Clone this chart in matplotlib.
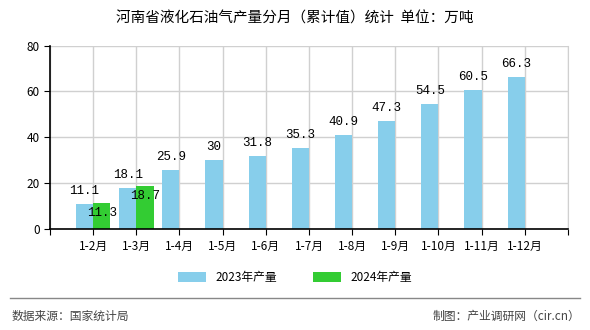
import matplotlib
matplotlib.use("Agg")
import matplotlib.pyplot as plt
import numpy as np

plt.rcParams['font.family'] = ['Noto Sans CJK SC', 'DejaVu Sans']

months = ['1-2月', '1-3月', '1-4月', '1-5月', '1-6月', '1-7月', '1-8月',
          '1-9月', '1-10月', '1-11月', '1-12月']
prod_2023 = [11.1, 18.1, 25.9, 30, 31.8, 35.3, 40.9, 47.3, 54.5, 60.5, 66.3]
prod_2024 = [11.3, 18.7]

fig = plt.figure(figsize=(5.9, 3.3), dpi=100)
ax = fig.add_axes([0.0847, 0.306, 0.878, 0.556])

x = np.arange(1, len(months) + 1)
w = 0.4
b1 = ax.bar(x - w / 2, prod_2023, width=w, color='#87CEEB', label='2023年产量', zorder=2)
x24 = x[:len(prod_2024)]
b2 = ax.bar(x24 + w / 2, prod_2024, width=w, color='#33CC33', label='2024年产量', zorder=2)

mono = ['Liberation Mono', 'DejaVu Sans Mono']
for xi, v in zip(x, prod_2023):
    ax.annotate('%g' % v, (xi - w / 2, v), xytext=(0, 5), textcoords='offset points',
                ha='center', va='bottom', fontsize=9, family=mono, zorder=3)
for xi, v in zip(x24, prod_2024):
    ax.annotate('%g' % v, (xi + w / 2, v), xytext=(0, -3), textcoords='offset points',
                ha='center', va='top', fontsize=9, family=mono, zorder=3)

ax.set_xlim(0, 12)
ax.set_ylim(0, 80)
ax.set_yticks([0, 20, 40, 60, 80])
ax.set_xticks(np.arange(0, 13))
ax.set_xticklabels([''] + months + [''])
ax.tick_params(axis='x', length=4, labelsize=8.5, pad=4)
ax.tick_params(axis='y', length=4, labelsize=8.5)
ax.grid(True, color='#d0d0d0', linewidth=1, zorder=0)
ax.spines['top'].set_visible(False)
ax.spines['right'].set_color('#d0d0d0')
ax.spines['left'].set_linewidth(1.2)
ax.spines['bottom'].set_linewidth(1.2)

fig.text(0.5, 0.945, '河南省液化石油气产量分月（累计值）统计  单位：万吨',
         ha='center', va='center', fontsize=10.5)

fig.legend(handles=[b1, b2], loc='center', bbox_to_anchor=(0.5, 0.16), ncol=2,
           frameon=False, fontsize=8.5, handlelength=2.4, handleheight=0.9,
           columnspacing=3)

fig.add_artist(plt.Line2D([0.017, 0.983], [0.097, 0.097], color='#888888', linewidth=1))
fig.text(0.02, 0.042, '数据来源：国家统计局', ha='left', va='center', fontsize=8.5, color='#444444')
fig.text(0.983, 0.042, '制图：产业调研网（cir.cn）', ha='right', va='center', fontsize=8.5,
         color='#444444')

fig.savefig('out.png', dpi=100)
